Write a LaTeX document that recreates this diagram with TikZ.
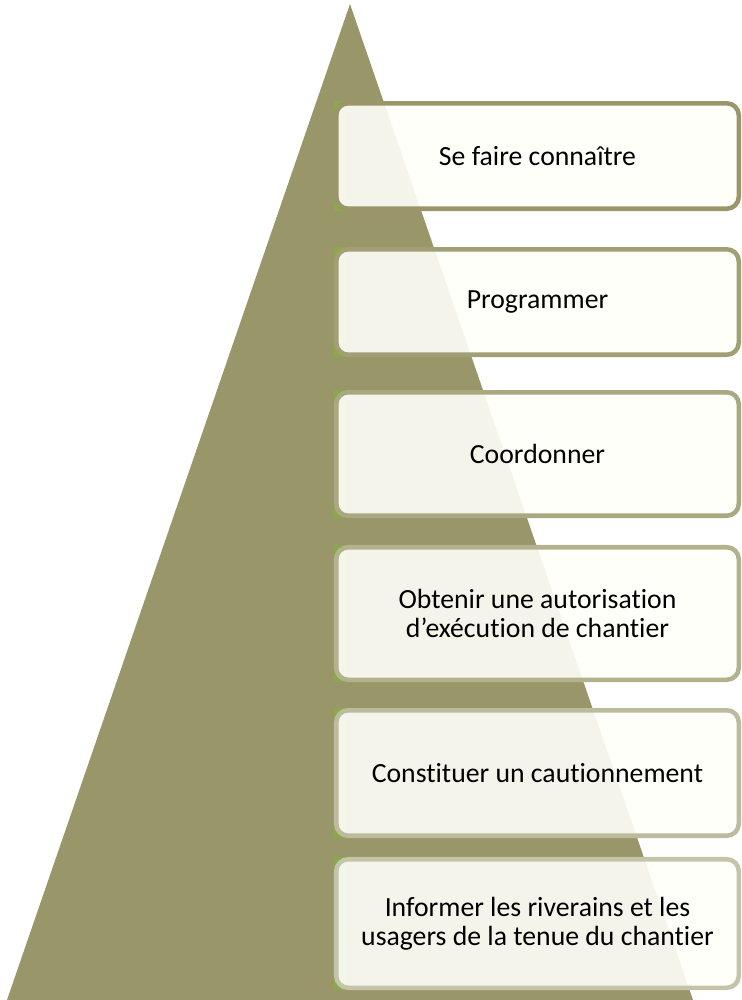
\documentclass[tikz,border=0pt]{standalone}
\usepackage{fontspec}
\setmainfont[Ligatures={NoCommon}]{Carlito}
\definecolor{pyrolive}{RGB}{153,150,106}
\definecolor{leafgreen}{RGB}{140,168,78}
\definecolor{bordA}{RGB}{154,150,105}
\definecolor{bordB}{RGB}{162,159,116}
\definecolor{bordC}{RGB}{170,168,128}
\definecolor{bordD}{RGB}{179,178,142}
\definecolor{bordE}{RGB}{188,187,157}
\definecolor{bordF}{RGB}{196,196,170}
\definecolor{boxfill}{RGB}{255,255,250}
\tikzset{
  stepbox/.style={rectangle, rounded corners=9pt, fill=boxfill, fill opacity=0.9, text opacity=1,
    line width=3.4pt, minimum width=301.9pt, align=center, inner sep=2pt,
    font=\fontsize{20.8}{21.8}\selectfont, text=black},
  pyr/.style={fill=pyrolive}
}
\begin{document}
\begin{tikzpicture}[x=0.75pt,y=-0.75pt]
\useasboundingbox (0,0) rectangle (742,1000);
\fill[pyr] (350,4) -- (693,1000) -- (7,1000) -- cycle;
% green corner backings
\fill[leafgreen] (334,101) rectangle (346,211);
\fill[leafgreen] (334,247) rectangle (346,357);
\fill[leafgreen] (334,390) rectangle (346,518);
\fill[leafgreen] (334,545) rectangle (346,682);
\fill[leafgreen] (334,708) rectangle (346,838);
\fill[leafgreen] (334,857) rectangle (346,990);
\node[stepbox, draw=bordA, minimum height=79.1pt] (b1) at (537.5,156) {Se faire connaître};
\node[stepbox, draw=bordB, minimum height=79.1pt] (b2) at (537.5,302) {Programmer};
\node[stepbox, draw=bordC, minimum height=92.6pt] (b3) at (537.5,454) {Coordonner};
\node[stepbox, draw=bordD, minimum height=99.4pt] (b4) at (537.5,613.5) {Obtenir une autorisation\\d’exécution de chantier};
\node[stepbox, draw=bordE, minimum height=94.1pt] (b5) at (537.5,773) {Constituer un cautionnement};
\node[stepbox, draw=bordF, minimum height=96.4pt] (b6) at (537.5,923.5) {Informer les riverains et les\\usagers de la tenue du chantier};
\end{tikzpicture}
\end{document}
